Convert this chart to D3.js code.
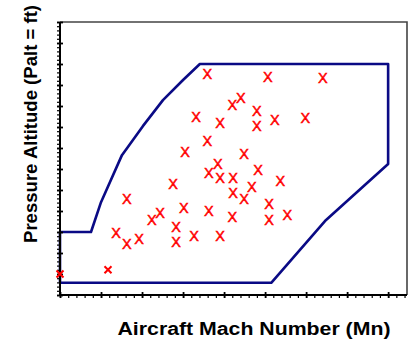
<!DOCTYPE html>
<html>
<head>
<meta charset="utf-8">
<script src="https://cdn.jsdelivr.net/npm/d3@7"></script>
<style>
body { margin: 0; background: #fff; }
text { font-family: Arial, "Liberation Sans", sans-serif; }
</style>
</head>
<body>
<div id="chart"></div>
<script>
// flight envelope outline (Mach, ft)
var envMach = [0, 0.0756, 0.1, 0.151, 0.202, 0.251, 0.30, 0.341, 0.8, 0.8, 0.646, 0.515, 0, 0];
var envAlt  = [15000, 15000, 22100, 33300, 40200, 46400, 51200, 55000, 55000, 31200, 17600, 2900, 2900, 15000];

// test points, drawn as "X"
var pointMach = [0.359, 0.507, 0.641, 0.441, 0.420, 0.480, 0.480, 0.390, 0.524, 0.598,
                 0.332, 0.359, 0.305, 0.449, 0.385, 0.483, 0.363, 0.390, 0.422, 0.276,
                 0.537, 0.468, 0.422, 0.449, 0.163, 0.302, 0.363, 0.510, 0.510, 0.554,
                 0.420, 0.244, 0.224, 0.283, 0.137, 0.163, 0.193, 0.283, 0.327, 0.390];
var pointAlt  = [52600, 51900, 51700, 46900, 45200, 43800, 40200, 41000, 41700, 42100,
                 42400, 36700, 34000, 33600, 31200, 29800, 29000, 27900, 27900, 26400,
                 27100, 25700, 24300, 22900, 22900, 20700, 20000, 21700, 17900, 19000,
                 18600, 19500, 17900, 16200, 14800, 12100, 13300, 12600, 14000, 14000];

// small cross markers
var markMach = [0, 0.117];
var markAlt  = [5000, 6000];

// axis ticks (unlabelled)
var xMajor = d3.range(0, 0.8001, 0.1);
var xMinor = d3.range(0, 0.8401, 0.02);
var yMajor = d3.range(0, 65001, 5000);
var yMinor = d3.range(0, 65001, 1000);

var width = 410, height = 344;

var svg = d3.select("#chart").append("svg")
    .attr("width", width)
    .attr("height", height);

var x = d3.scaleLinear().domain([0, 0.846]).range([60, 407]);
var y = d3.scaleLinear().domain([0, 65000]).range([295, 22]);

// frame top + right
svg.append("path")
    .attr("d", "M" + x(0) + "," + y(65000) + "H" + x(0.846) + "V" + y(0))
    .style("fill", "none")
    .style("stroke", "#444")
    .style("stroke-width", 1.6);

// envelope
var env = envMach.map(function(m, i) { return [x(m), y(envAlt[i])]; });
svg.append("path")
    .attr("d", d3.line()(env) + "Z")
    .style("fill", "none")
    .style("stroke", "#0a0a85")
    .style("stroke-width", 2.6)
    .style("stroke-linejoin", "round");

// axes
function tickLines(g) {
    g.select(".domain").remove();
    g.selectAll("line").style("stroke", "#000").style("stroke-width", 1.2);
}

svg.append("g")
    .attr("transform", "translate(0," + y(0) + ")")
    .call(d3.axisBottom(x).tickValues(xMinor).tickSize(3).tickFormat(""))
    .call(tickLines);

svg.append("g")
    .attr("transform", "translate(0," + y(0) + ")")
    .call(d3.axisBottom(x).tickValues(xMajor).tickSize(3).tickFormat(""))
    .call(tickLines)
    .selectAll(".tick line").attr("y1", -3).style("stroke-width", 1.8);

svg.append("g")
    .attr("transform", "translate(" + x(0) + ",0)")
    .call(d3.axisLeft(y).tickValues(yMinor).tickSize(3).tickFormat(""))
    .call(tickLines);

svg.append("g")
    .attr("transform", "translate(" + x(0) + ",0)")
    .call(d3.axisLeft(y).tickValues(yMajor).tickSize(3).tickFormat(""))
    .call(tickLines)
    .selectAll(".tick line").attr("x1", 3).style("stroke-width", 1.8);

svg.append("path")
    .attr("d", "M" + x(0) + "," + y(65000) + "V" + y(0) + "H" + x(0.846))
    .style("fill", "none")
    .style("stroke", "#000")
    .style("stroke-width", 2);

// points
svg.selectAll(".pt")
    .data(pointMach)
    .enter().append("text")
    .attr("class", "pt")
    .attr("x", function(d) { return x(d); })
    .attr("y", function(d, i) { return y(pointAlt[i]) + 5; })
    .attr("text-anchor", "middle")
    .style("font-size", "14.5px")
    .style("fill", "#ff0000")
    .style("stroke", "#ff0000")
    .style("stroke-width", 0.45)
    .text("X");

var marks = svg.selectAll(".mk")
    .data(markMach)
    .enter().append("g")
    .attr("transform", function(d, i) {
        return "translate(" + x(d) + "," + y(markAlt[i]) + ")";
    });
marks.append("path")
    .attr("d", "M-3.5,-3.5L3.5,3.5M-3.5,3.5L3.5,-3.5")
    .style("stroke", "#ff0000")
    .style("stroke-width", 2);

// titles
svg.append("text")
    .attr("x", 254)
    .attr("y", 335)
    .attr("text-anchor", "middle")
    .attr("textLength", 273)
    .attr("lengthAdjust", "spacingAndGlyphs")
    .style("font-size", "17.5px")
    .style("font-weight", "bold")
    .style("fill", "#000")
    .text("Aircraft Mach Number (Mn)");

svg.append("text")
    .attr("transform", "translate(37,124) rotate(-90)")
    .attr("text-anchor", "middle")
    .attr("textLength", 238)
    .attr("lengthAdjust", "spacingAndGlyphs")
    .style("font-size", "17.5px")
    .style("font-weight", "bold")
    .style("fill", "#000")
    .text("Pressure Altitude (Palt = ft)");
</script>
</body>
</html>
